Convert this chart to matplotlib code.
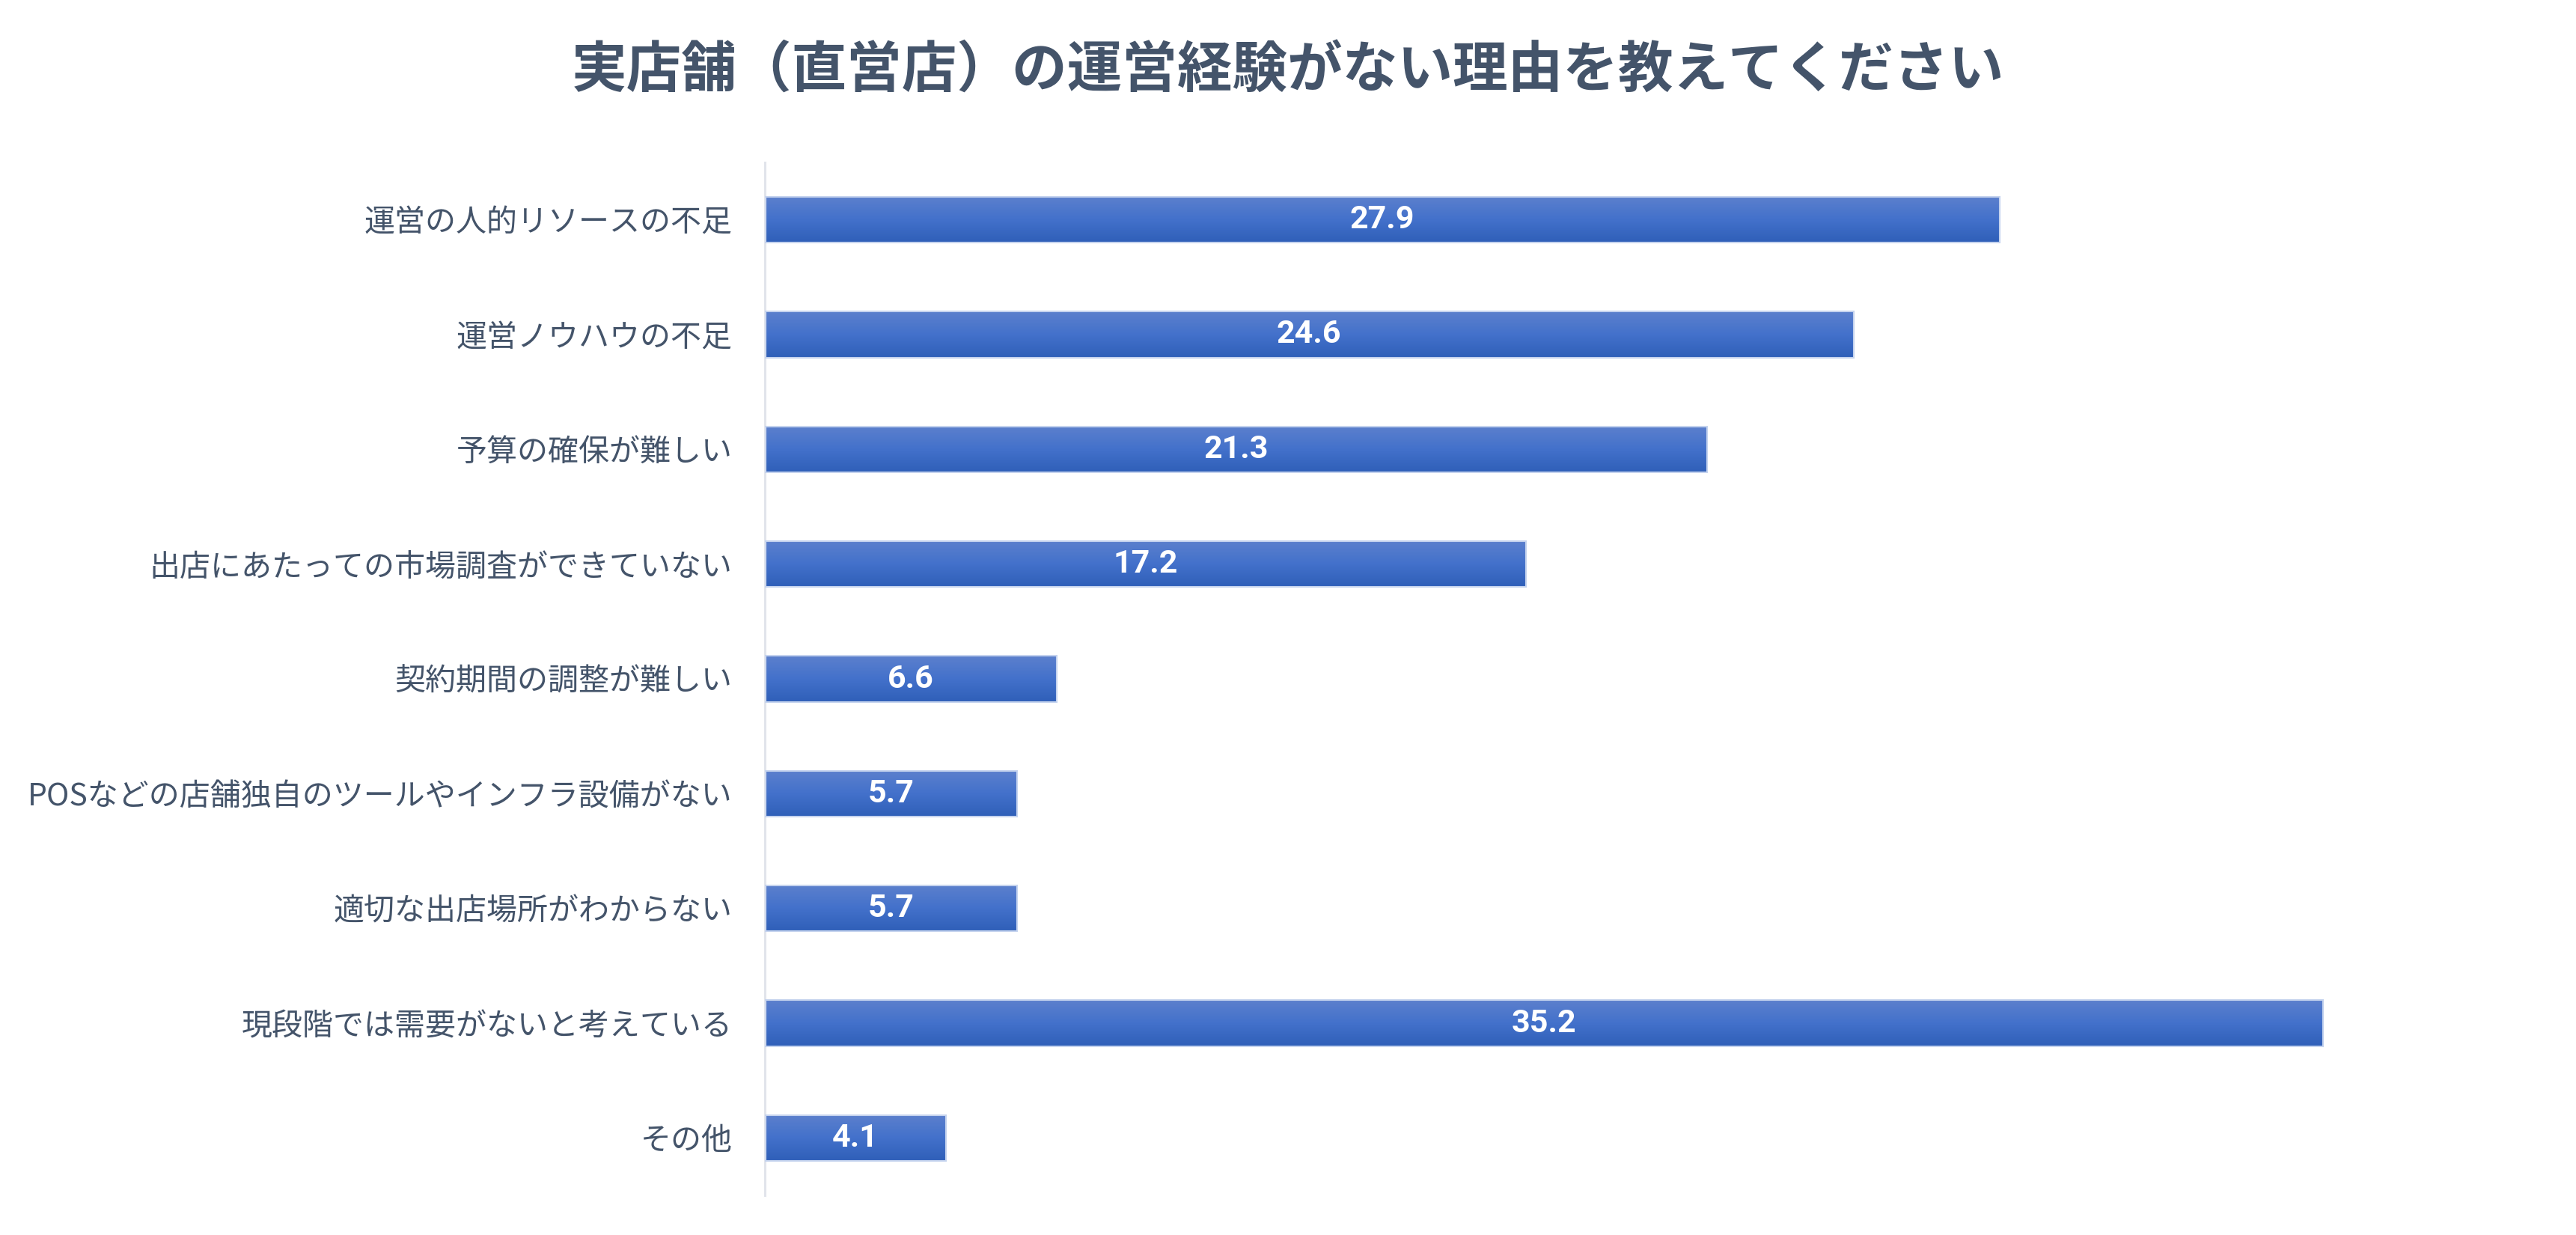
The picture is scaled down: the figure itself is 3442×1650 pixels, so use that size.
import matplotlib
matplotlib.use("Agg")
import matplotlib.pyplot as plt
import numpy as np
from matplotlib import font_manager
from matplotlib.colors import LinearSegmentedColormap

categories = [
    "運営の人的リソースの不足",
    "運営ノウハウの不足",
    "予算の確保が難しい",
    "出店にあたっての市場調査ができていない",
    "契約期間の調整が難しい",
    "POSなどの店舗独自のツールやインフラ設備がない",
    "適切な出店場所がわからない",
    "現段階では需要がないと考えている",
    "その他",
]
values = [27.9, 24.6, 21.3, 17.2, 6.6, 5.7, 5.7, 35.2, 4.1]
title = "実店舗（直営店）の運営経験がない理由を教えてください"

plt.rcParams['font.family'] = ['Noto Sans CJK JP', 'DejaVu Sans']

avail = {f.name for f in font_manager.fontManager.ttflist}
num_family = next((f for f in ['Liberation Sans Narrow', 'Roboto', 'Liberation Sans'] if f in avail), 'DejaVu Sans')

text_color = '#44546A'

fig = plt.figure(figsize=(34.42, 16.5), dpi=100)
ax = fig.add_axes([0.2968, 0.0321, 0.6874, 0.8364])

y = np.arange(len(categories))
bars = ax.barh(y, values, height=0.4, facecolor='none', edgecolor='#C5D3EE', linewidth=1.5, zorder=3)

cmap = LinearSegmentedColormap.from_list('g', ['#5C80CD', '#4371CB', '#2F5FB8'])
grad = np.linspace(0, 1, 256).reshape(-1, 1)
for b in bars:
    x0, y0, w, h = b.get_x(), b.get_y(), b.get_width(), b.get_height()
    im = ax.imshow(grad, cmap=cmap, aspect='auto', extent=[x0, x0 + w, y0 + h, y0], zorder=2, interpolation='bilinear')
    im.set_clip_path(b)

for b, v in zip(bars, values):
    ax.text(b.get_x() + b.get_width() / 2, b.get_y() + b.get_height() / 2, f"{v:.1f}",
            ha='center', va='center', color='white', fontsize=31, fontweight='bold',
            family=num_family, zorder=4)

ax.set_xlim(0, 40)
ax.set_ylim(len(categories) - 0.5, -0.5)
ax.set_yticks(y)
ax.set_yticklabels(categories, fontsize=29.5, color=text_color)
ax.tick_params(axis='y', length=0, pad=31)
ax.set_xticks([])
for s in ['top', 'right', 'bottom']:
    ax.spines[s].set_visible(False)
ax.spines['left'].set_color('#E1E4EB')
ax.spines['left'].set_linewidth(2.2)

fig.text(0.5, 1 - 95 / 1650, title, ha='center', va='center', fontsize=53,
         fontweight='bold', color=text_color)

fig.savefig('out.png', dpi=100, facecolor='white')
